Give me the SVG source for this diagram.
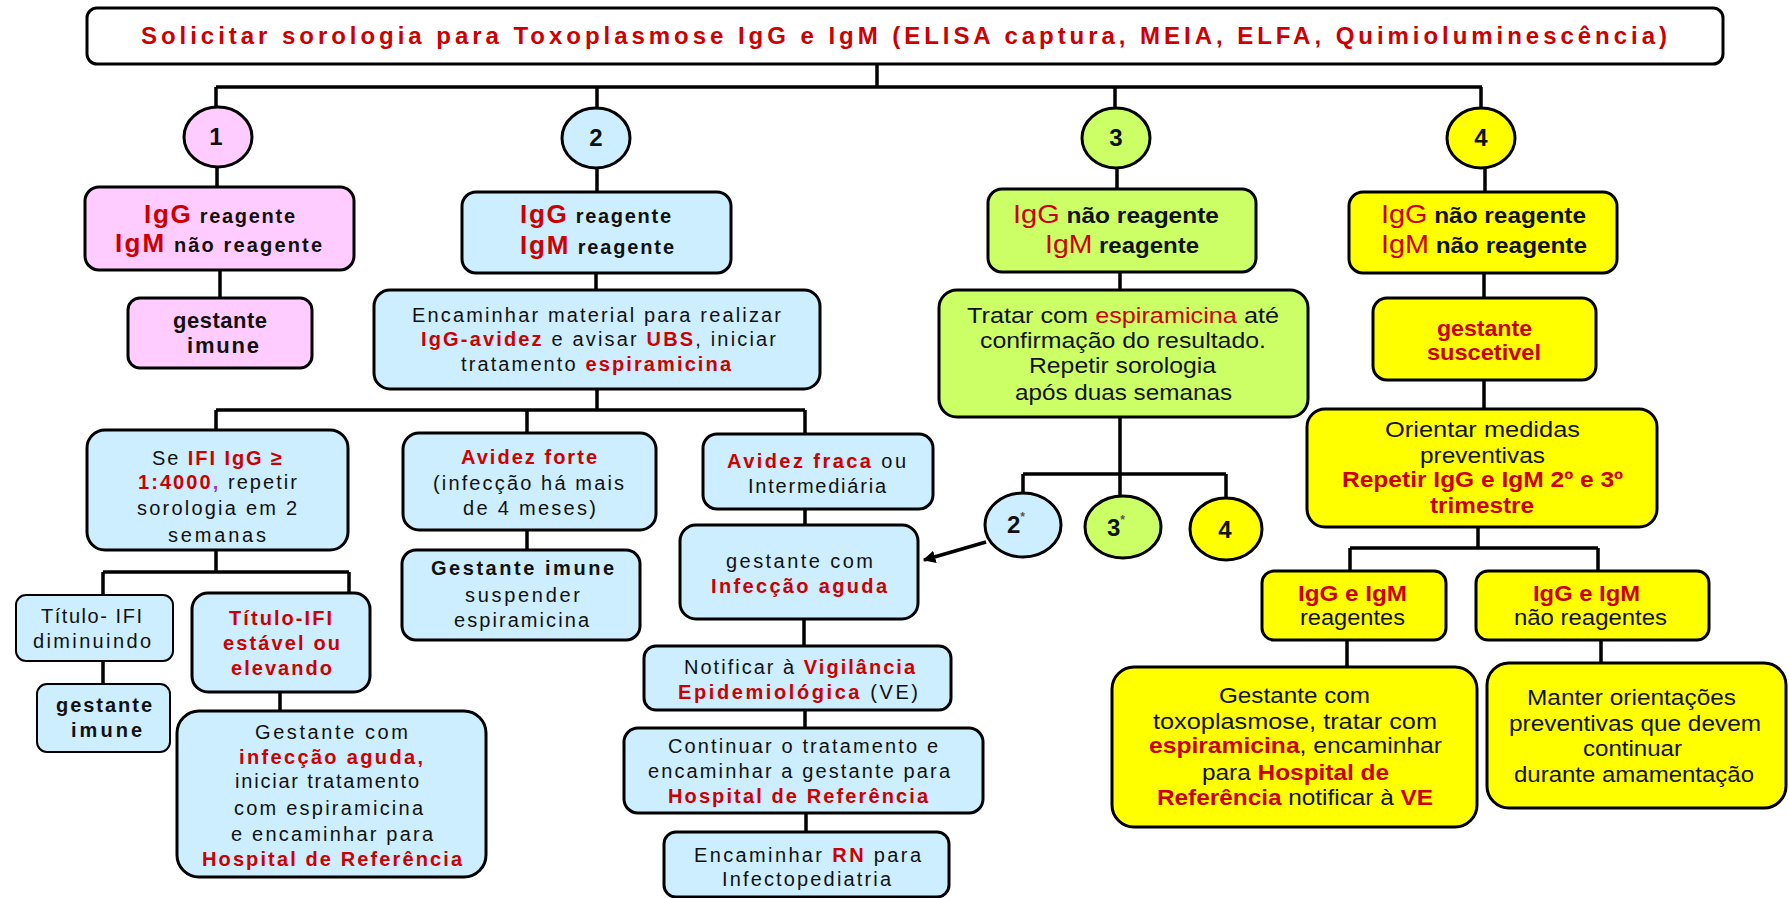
<svg xmlns="http://www.w3.org/2000/svg" width="1789" height="898" viewBox="0 0 1789 898">
<style>
text{font-family:"Liberation Sans",Arial,sans-serif;font-size:20px;fill:#111}
.r{fill:#cc0000}
.b{font-weight:bold}
.g{font-size:26px}
.n{font-size:22px}
.box{stroke:#000;stroke-width:3}
.thin{stroke-width:2}
.pk{fill:#ffccff}.bl{fill:#cceeff}.gr{fill:#ccff66}.ye{fill:#ffff00}.wh{fill:#fff}
.conn path{fill:none;stroke:#000;stroke-width:3.5}
.num{font-size:24px;font-weight:bold;text-anchor:middle}
.ast{font-size:12px;fill:#555}
</style>
<defs>
<marker id="arr" viewBox="0 0 10 10" refX="9" refY="5" markerWidth="3.6" markerHeight="3.6" orient="auto"><path d="M0,0L10,5L0,10z" fill="#000"/></marker>
</defs>
<rect width="1789" height="898" fill="#fff"/>
<g id="connectors" class="conn">
<path d="M877,64V87M216,87H1482M216,87V107M597,87V108M1115,87V108M1481,87V108"/>
<path d="M217,166V187M597,167V192M1117,168V189M1485,168V192"/>
<path d="M220,270V298"/>
<path d="M596,273V290M597,389V410M216,410H805M216,410V430M527,410V433M805,410V434"/>
<path d="M216,550V572M103,572H349M103,572V595M349,572V593M103,661V684M280,692V711"/>
<path d="M527,530V550"/>
<path d="M805,509V525M804,619V646M805,710V728M806,813V832"/>
<path d="M1120,272V290M1120,417V496M1023,474H1226M1023,474V493M1226,474V497"/>
<path d="M986,542L924,560" marker-end="url(#arr)"/>
<path d="M1484,273V298M1484,380V409M1478,527V548M1350,548H1598M1350,548V571M1598,548V571M1347,640V667M1601,640V663"/>
</g>
<g id="title">
<rect class="box wh" x="87" y="8" width="1636" height="56" rx="10"/>
<text x="141" y="44" textLength="1526" lengthAdjust="spacing" class="r b" style="font-size:24px">Solicitar sorologia para Toxoplasmose IgG e IgM (ELISA captura, MEIA, ELFA, Quimioluminescência)</text>
</g>
<g id="n1"><ellipse class="box pk" cx="218" cy="137" rx="34" ry="30"/><text class="num" x="216" y="145">1</text></g>
<g id="n2"><ellipse class="box bl" cx="596" cy="138" rx="34" ry="30"/><text class="num" x="596" y="146">2</text></g>
<g id="n3"><ellipse class="box gr" cx="1116" cy="138" rx="34" ry="30"/><text class="num" x="1116" y="146">3</text></g>
<g id="n4"><ellipse class="box ye" cx="1481" cy="138" rx="34" ry="30"/><text class="num" x="1481" y="146">4</text></g>

<g id="pink-result">
<rect class="box pk" x="85" y="187" width="269" height="83" rx="14"/>
<text x="144" y="223" textLength="151" lengthAdjust="spacing"><tspan class="r b g">IgG</tspan><tspan class="b"> reagente</tspan></text>
<text x="115" y="252" textLength="207" lengthAdjust="spacing"><tspan class="r b g">IgM</tspan><tspan class="b"> não reagente</tspan></text>
</g>
<g id="pink-imune">
<rect class="box pk" x="128" y="298" width="184" height="70" rx="12"/>
<text x="173" y="328" textLength="94" lengthAdjust="spacing" class="b n">gestante</text>
<text x="187" y="353" textLength="72" lengthAdjust="spacing" class="b n">imune</text>
</g>

<g id="blue-result">
<rect class="box bl" x="462" y="192" width="269" height="81" rx="14"/>
<text x="520" y="223" textLength="151" lengthAdjust="spacing"><tspan class="r b g">IgG</tspan><tspan class="b"> reagente</tspan></text>
<text x="520" y="254" textLength="154" lengthAdjust="spacing"><tspan class="r b g">IgM</tspan><tspan class="b"> reagente</tspan></text>
</g>
<g id="blue-encaminhar">
<rect class="box bl" x="374" y="290" width="446" height="99" rx="16"/>
<text x="412" y="322" textLength="369" lengthAdjust="spacing">Encaminhar material para realizar</text>
<text x="421" y="346" textLength="355" lengthAdjust="spacing"><tspan class="r b">IgG-avidez</tspan> e avisar <tspan class="r b">UBS</tspan>, iniciar</text>
<text x="461" y="371" textLength="270" lengthAdjust="spacing">tratamento <tspan class="r b">espiramicina</tspan></text>
</g>
<g id="blue-seifi">
<rect class="box bl" x="87" y="430" width="261" height="120" rx="18"/>
<text x="152" y="465" textLength="130" lengthAdjust="spacing">Se <tspan class="r b">IFI IgG ≥</tspan></text>
<text x="138" y="489" textLength="159" lengthAdjust="spacing"><tspan class="r b">1:4000</tspan><tspan class="b" fill="#9933cc">,</tspan> repetir</text>
<text x="137" y="515" textLength="160" lengthAdjust="spacing">sorologia em 2</text>
<text x="168" y="542" textLength="98" lengthAdjust="spacing">semanas</text>
</g>
<g id="blue-avidez-forte">
<rect class="box bl" x="403" y="433" width="253" height="97" rx="16"/>
<text x="461" y="464" textLength="136" lengthAdjust="spacing" class="r b">Avidez forte</text>
<text x="433" y="490" textLength="191" lengthAdjust="spacing">(infecção há mais</text>
<text x="463" y="515" textLength="133" lengthAdjust="spacing">de 4 meses)</text>
</g>
<g id="blue-imune-suspender">
<rect class="box bl" x="402" y="550" width="238" height="90" rx="14"/>
<text x="431" y="575" textLength="183" lengthAdjust="spacing" class="b">Gestante imune</text>
<text x="465" y="602" textLength="115" lengthAdjust="spacing">suspender</text>
<text x="454" y="627" textLength="135" lengthAdjust="spacing">espiramicina</text>
</g>
<g id="blue-avidez-fraca">
<rect class="box bl" x="703" y="434" width="230" height="75" rx="14"/>
<text x="727" y="468" textLength="179" lengthAdjust="spacing"><tspan class="r b">Avidez fraca</tspan> ou</text>
<text x="748" y="493" textLength="138" lengthAdjust="spacing">Intermediária</text>
</g>
<g id="blue-aguda">
<rect class="box bl" x="680" y="525" width="238" height="94" rx="16"/>
<text x="726" y="568" textLength="147" lengthAdjust="spacing">gestante com</text>
<text x="711" y="593" textLength="176" lengthAdjust="spacing" class="r b">Infecção aguda</text>
</g>
<g id="blue-notificar">
<rect class="box bl" x="644" y="646" width="307" height="64" rx="12"/>
<text x="684" y="674" textLength="231" lengthAdjust="spacing">Notificar à <tspan class="r b">Vigilância</tspan></text>
<text x="678" y="699" textLength="240" lengthAdjust="spacing"><tspan class="r b">Epidemiológica</tspan> (VE)</text>
</g>
<g id="blue-continuar">
<rect class="box bl" x="624" y="728" width="359" height="85" rx="14"/>
<text x="668" y="753" textLength="270" lengthAdjust="spacing">Continuar o tratamento e</text>
<text x="648" y="778" textLength="302" lengthAdjust="spacing">encaminhar a gestante para</text>
<text x="668" y="803" textLength="260" lengthAdjust="spacing" class="r b">Hospital de Referência</text>
</g>
<g id="blue-rn">
<rect class="box bl" x="664" y="832" width="285" height="65" rx="12"/>
<text x="694" y="862" textLength="227" lengthAdjust="spacing">Encaminhar <tspan class="r b">RN</tspan> para</text>
<text x="722" y="886" textLength="169" lengthAdjust="spacing">Infectopediatria</text>
</g>
<g id="blue-titulo-dim">
<rect class="box thin bl" x="16" y="595" width="157" height="66" rx="10"/>
<text x="41" y="623" textLength="101" lengthAdjust="spacing">Título- IFI</text>
<text x="33" y="648" textLength="118" lengthAdjust="spacing">diminuindo</text>
</g>
<g id="blue-imune2">
<rect class="box thin bl" x="37" y="684" width="133" height="68" rx="10"/>
<text x="56" y="712" textLength="96" lengthAdjust="spacing" class="b">gestante</text>
<text x="71" y="737" textLength="71" lengthAdjust="spacing" class="b">imune</text>
</g>
<g id="blue-titulo-est">
<rect class="box bl" x="192" y="593" width="178" height="99" rx="16"/>
<text x="229" y="625" textLength="103" lengthAdjust="spacing" class="r b">Título-IFI</text>
<text x="223" y="650" textLength="117" lengthAdjust="spacing" class="r b">estável ou</text>
<text x="231" y="675" textLength="101" lengthAdjust="spacing" class="r b">elevando</text>
</g>
<g id="blue-aguda2">
<rect class="box bl" x="177" y="711" width="309" height="166" rx="22"/>
<text x="255" y="739" textLength="153" lengthAdjust="spacing">Gestante com</text>
<text x="239" y="764" textLength="184" lengthAdjust="spacing" class="r b">infecção aguda,</text>
<text x="235" y="788" textLength="184" lengthAdjust="spacing">iniciar tratamento</text>
<text x="234" y="815" textLength="189" lengthAdjust="spacing">com espiramicina</text>
<text x="231" y="841" textLength="202" lengthAdjust="spacing">e encaminhar para</text>
<text x="202" y="866" textLength="260" lengthAdjust="spacing" class="r b">Hospital de Referência</text>
</g>

<g id="green-result">
<rect class="box gr" x="988" y="189" width="268" height="83" rx="14"/>
<text x="1013" y="223" textLength="206" lengthAdjust="spacingAndGlyphs"><tspan class="r g">IgG</tspan><tspan class="b n"> não reagente</tspan></text>
<text x="1045" y="253" textLength="154" lengthAdjust="spacingAndGlyphs"><tspan class="r g">IgM</tspan><tspan class="b n"> reagente</tspan></text>
</g>
<g id="green-tratar">
<rect class="box gr" x="939" y="290" width="369" height="127" rx="18"/>
<text x="967" y="323" textLength="312" lengthAdjust="spacingAndGlyphs" class="n">Tratar com <tspan class="r">espiramicina</tspan> até</text>
<text x="980" y="348" textLength="286" lengthAdjust="spacingAndGlyphs" class="n">confirmação do resultado.</text>
<text x="1029" y="373" textLength="187" lengthAdjust="spacingAndGlyphs" class="n">Repetir sorologia</text>
<text x="1015" y="400" textLength="217" lengthAdjust="spacingAndGlyphs" class="n">após duas semanas</text>
</g>
<g id="n2s"><ellipse class="box bl" cx="1023" cy="525" rx="38" ry="32"/><text x="1016" y="533" class="num">2<tspan class="ast" dy="-12">*</tspan></text></g>
<g id="n3s"><ellipse class="box gr" cx="1123" cy="527" rx="38" ry="31"/><text x="1116" y="536" class="num">3<tspan class="ast" dy="-12">*</tspan></text></g>
<g id="n4s"><ellipse class="box ye" cx="1226" cy="529" rx="36" ry="31"/><text x="1225" y="538" class="num">4</text></g>

<g id="yellow-result">
<rect class="box ye" x="1349" y="192" width="268" height="81" rx="14"/>
<text x="1381" y="223" textLength="205" lengthAdjust="spacingAndGlyphs"><tspan class="r g">IgG</tspan><tspan class="b n"> não reagente</tspan></text>
<text x="1381" y="253" textLength="206" lengthAdjust="spacingAndGlyphs"><tspan class="r g">IgM</tspan><tspan class="b n"> não reagente</tspan></text>
</g>
<g id="yellow-suscetivel">
<rect class="box ye" x="1373" y="298" width="223" height="82" rx="14"/>
<text x="1437" y="336" textLength="95" lengthAdjust="spacingAndGlyphs" class="r b n">gestante</text>
<text x="1427" y="360" textLength="114" lengthAdjust="spacingAndGlyphs" class="r b n">suscetivel</text>
</g>
<g id="yellow-orientar">
<rect class="box ye" x="1307" y="409" width="350" height="118" rx="18"/>
<text x="1385" y="437" textLength="195" lengthAdjust="spacingAndGlyphs" class="n">Orientar medidas</text>
<text x="1420" y="463" textLength="125" lengthAdjust="spacingAndGlyphs" class="n">preventivas</text>
<text x="1342" y="487" textLength="281" lengthAdjust="spacingAndGlyphs" class="r b n">Repetir IgG e IgM 2º e 3º</text>
<text x="1430" y="513" textLength="104" lengthAdjust="spacingAndGlyphs" class="r b n">trimestre</text>
</g>
<g id="yellow-reag">
<rect class="box ye" x="1262" y="571" width="184" height="69" rx="12"/>
<text x="1298" y="601" textLength="109" lengthAdjust="spacingAndGlyphs" class="r b n">IgG e IgM</text>
<text x="1300" y="625" textLength="105" lengthAdjust="spacingAndGlyphs" class="n">reagentes</text>
</g>
<g id="yellow-naoreag">
<rect class="box ye" x="1476" y="571" width="233" height="69" rx="12"/>
<text x="1533" y="601" textLength="107" lengthAdjust="spacingAndGlyphs" class="r b n">IgG e IgM</text>
<text x="1514" y="625" textLength="153" lengthAdjust="spacingAndGlyphs" class="n">não reagentes</text>
</g>
<g id="yellow-toxo">
<rect class="box ye" x="1112" y="667" width="365" height="160" rx="22"/>
<text x="1219" y="703" textLength="151" lengthAdjust="spacingAndGlyphs" class="n">Gestante com</text>
<text x="1153" y="729" textLength="284" lengthAdjust="spacingAndGlyphs" class="n">toxoplasmose, tratar com</text>
<text x="1149" y="753" textLength="293" lengthAdjust="spacingAndGlyphs" class="n"><tspan class="r b">espiramicina</tspan>, encaminhar</text>
<text x="1202" y="780" textLength="187" lengthAdjust="spacingAndGlyphs" class="n">para <tspan class="r b">Hospital de</tspan></text>
<text x="1157" y="805" textLength="276" lengthAdjust="spacingAndGlyphs" class="n"><tspan class="r b">Referência</tspan> notificar à <tspan class="r b">VE</tspan></text>
</g>
<g id="yellow-manter">
<rect class="box ye" x="1487" y="663" width="299" height="145" rx="22"/>
<text x="1527" y="705" textLength="209" lengthAdjust="spacingAndGlyphs" class="n">Manter orientações</text>
<text x="1509" y="731" textLength="252" lengthAdjust="spacingAndGlyphs" class="n">preventivas que devem</text>
<text x="1583" y="756" textLength="99" lengthAdjust="spacingAndGlyphs" class="n">continuar</text>
<text x="1514" y="782" textLength="240" lengthAdjust="spacingAndGlyphs" class="n">durante amamentação</text>
</g>
</svg>
